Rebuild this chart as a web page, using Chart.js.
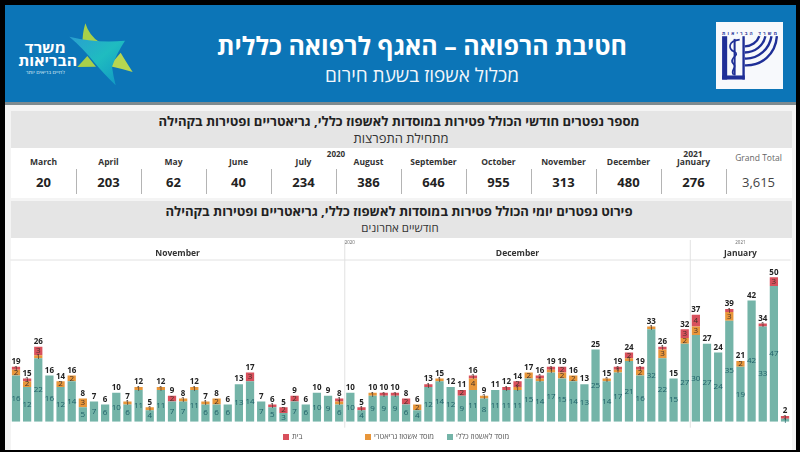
<!DOCTYPE html>
<html lang="he">
<head>
<meta charset="utf-8">
<title>חטיבת הרפואה</title>
<script src="https://cdn.jsdelivr.net/npm/chart.js@4"></script>
<style>
    html, body { margin: 0; padding: 0; background: #000; overflow: hidden; }
    body { width: 800px; height: 452px; position: relative; font-family: "Open Sans", "Liberation Sans", sans-serif; color: #222; }
    .box { position: absolute; }
    .text { position: absolute; white-space: nowrap; transform: translate(-50%, -50%); line-height: 1; }
    #page { left: 5px; top: 5px; width: 791px; height: 445px; background: #f4f4f4; }
    #header { left: 5px; top: 5px; width: 791px; height: 97px; background: #0c75b7; }
    #headerLine { left: 5px; top: 102px; width: 791px; height: 3px; background: #7d8a8f; }
    .band { left: 11px; width: 781px; height: 37px; background: #e5e5e5; }
    #monthRow { left: 11px; top: 148px; width: 781px; height: 50px; background: #fff; }
    #chartPanel { left: 11px; top: 238px; width: 781px; height: 212px; background: #fff; }
    .divider { position: absolute; top: 169px; height: 25px; width: 1px; background: #b4b4b4; }
    .monthName { font-size: 8.5px; font-weight: 700; color: #333; }
    .monthValue { font-size: 13px; font-weight: 700; color: #222; }
    .legendSwatch { position: absolute; top: 434px; width: 6px; height: 6px; }
    .legendText { position: absolute; top: 433px; font-size: 7.5px; line-height: 1; color: #555; white-space: nowrap; }
    canvas { position: absolute; left: 0; top: 0; }
</style>
</head>
<body>
<div class="box" id="page"></div>
<div class="box" id="header"></div>
<div class="box" id="headerLine"></div>

<!-- Ministry logo, left of the banner -->
<svg class="box" style="left:0;top:10px" width="150" height="90" viewBox="0 0 450 270">
    <defs>
        <linearGradient id="tealFill" x1="0" y1="0" x2="1" y2="1">
            <stop offset="0" stop-color="#2a9fd0"/>
            <stop offset="0.5" stop-color="#1fbcc0"/>
            <stop offset="1" stop-color="#0f93c4"/>
        </linearGradient>
    </defs>
    <path d="M256 40 Q246 75 248 100 L298 96 Q268 78 256 40 Z" fill="#a9d04a"/>
    <path d="M232 171 L288 170 L262 138 Z" fill="#a9d04a"/>
    <path d="M362 128 Q375 150 398 186 Q360 175 328 168 Z" fill="#b7d651"/>
    <path d="M208 80 Q290 100 375 92 Q350 130 336 170 Q340 200 347 226 Q310 190 285 160 Q250 115 208 80 Z" fill="url(#tealFill)"/>
    <text x="136" y="130" text-anchor="middle" fill="#fff" font-size="42" font-weight="700" textLength="123" lengthAdjust="spacingAndGlyphs">משרד</text>
    <text x="143" y="168" text-anchor="middle" fill="#fff" font-size="42" font-weight="700" textLength="177" lengthAdjust="spacingAndGlyphs">הבריאות</text>
    <text x="136" y="192" text-anchor="middle" fill="#dcecf5" font-size="15" textLength="117" lengthAdjust="spacingAndGlyphs">לחיים בריאים יותר</text>
</svg>

<!-- Emblem, right of the banner -->
<svg class="box" style="left:716px;top:22px" width="67" height="67" viewBox="0 0 198 198">
    <rect x="0" y="0" width="198" height="198" fill="#f7f9fc"/>
    <rect x="18" y="42" width="15" height="128" fill="#1f2f97"/>
    <rect x="18" y="158" width="67" height="12" fill="#1f2f97"/>
    <rect x="78" y="42" width="7" height="128" fill="#1f2f97"/>
    <path d="M55 50 L55 158" stroke="#1f2f97" stroke-width="6" fill="none"/>
    <path d="M70 52 C34 56 36 80 54 88 C74 98 36 106 50 122 C66 134 40 142 52 156" stroke="#1f2f97" stroke-width="5" fill="none"/>
    <path d="M85 128 C135 130 176 96 180 42" stroke="#1f2f97" stroke-width="7" fill="none"/>
    <path d="M85 108 C125 110 158 80 164 42" stroke="#1f2f97" stroke-width="7" fill="none"/>
    <path d="M85 90 C115 90 140 70 146 42" stroke="#1f2f97" stroke-width="7" fill="none"/>
    <path d="M85 72 C104 72 122 60 128 42" stroke="#1f2f97" stroke-width="7" fill="none"/>
    <text x="99" y="38" text-anchor="middle" fill="#1f2f97" font-size="14" font-weight="700" textLength="162" lengthAdjust="spacing">משרד הבריאות</text>
</svg>

<div class="text" dir="rtl" style="left:422px;top:45px;font-size:25px;font-weight:700;color:#fff">חטיבת הרפואה – האגף לרפואה כללית</div>
<div class="text" dir="rtl" style="left:422px;top:75px;font-size:19px;color:#f2f7fb">מכלול אשפוז בשעת חירום</div>

<div class="box band" style="top:111px"></div>
<div class="text" dir="rtl" style="left:399px;top:122px;font-size:13.1px;font-weight:700">מספר נפטרים חודשי הכולל פטירות במוסדות לאשפוז כללי, גריאטריים ופטירות בקהילה</div>
<div class="text" dir="rtl" style="left:401px;top:138px;font-size:13px;color:#333">מתחילת התפרצות</div>

<div class="box" id="monthRow"></div>
<div id="monthTable"></div>

<div class="box band" style="top:201px"></div>
<div class="text" dir="rtl" style="left:399px;top:212px;font-size:13.1px;font-weight:700">פירוט נפטרים יומי הכולל פטירות במוסדות לאשפוז כללי, גריאטריים ופטירות בקהילה</div>
<div class="text" dir="rtl" style="left:400px;top:228px;font-size:11.5px;color:#333">חודשיים אחרונים</div>

<div class="box" id="chartPanel"></div>
<canvas id="dailyChart" width="800" height="452"></canvas>
<div id="dailyLegend"></div>

<script>
// Monthly table
const monthNames = ['March', 'April', 'May', 'June', 'July', 'August', 'September', 'October', 'November', 'December', 'January'];
const monthTotals = [20, 203, 62, 40, 234, 386, 646, 955, 313, 480, 276];
const grandTotal = '3,615';

// Daily chart
const dayLabels = [
    '1', '2', '3', '4', '5', '6', '7', '8', '9', '10', '11', '12', '13', '14', '15',
    '16', '17', '18', '19', '20', '21', '22', '23', '24', '25', '26', '27', '28', '29', '30',
    '1', '2', '3', '4', '5', '6', '7', '8', '9', '10', '11', '12', '13', '14', '15', '16',
    '17', '18', '19', '20', '21', '22', '23', '24', '25', '26', '27', '28', '29', '30', '31',
    '1', '2', '3', '4', '5', '6', '7', '8', '9'
];
const generalValues = [
    16, 12, 22, 16, 12, 14, 5, 7, 6, 10, 6, 11, 4, 11, 7,
    7, 11, 6, 6, 6, 13, 14, 7, 5, 3, 7, 6, 10, 9, 6,
    10, 4, 9, 9, 9, 6, 4, 12, 14, 12, 9, 11, 8, 11, 11, 11,
    15, 14, 17, 15, 14, 13, 25, 14, 17, 21, 16, 32, 22, 15, 27,
    30, 27, 24, 35, 19, 42, 33, 47, 1
];
const geriatricValues = [
    2, 2, 1, 0, 2, 2, 3, 0, 0, 0, 1, 1, 1, 1, 0,
    1, 1, 1, 2, 0, 0, 0, 0, 0, 0, 0, 0, 0, 0, 1,
    0, 0, 1, 0, 0, 0, 2, 0, 1, 0, 0, 4, 1, 0, 0, 1,
    2, 1, 1, 2, 2, 0, 0, 1, 1, 1, 2, 1, 3, 0, 2,
    3, 0, 0, 3, 2, 0, 0, 0, 0
];
const homeValues = [
    1, 1, 3, 0, 0, 0, 0, 0, 0, 0, 0, 0, 0, 0, 2,
    0, 0, 0, 0, 0, 0, 3, 0, 1, 2, 2, 0, 0, 0, 1,
    0, 1, 0, 1, 1, 2, 0, 1, 0, 0, 2, 1, 0, 0, 1, 2,
    0, 1, 1, 2, 0, 0, 0, 0, 1, 2, 1, 0, 1, 0, 3,
    4, 0, 0, 1, 0, 0, 1, 3, 1
];
const seriesNames = ['מוסד לאשפוז כללי', 'מוסד אשפוז גריאטרי', 'בית'];
const seriesColors = ['#74b4a8', '#e8963a', '#d8505c'];
const dayBands = [
    { name: 'November', days: 30, year: '' },
    { name: 'December', days: 31, year: '2020' },
    { name: 'January', days: 9, year: '2021' }
];

/**
 * Fills the monthly table from the month arrays
 */
function printMonthTable(){
    const table = document.getElementById('monthTable');
    const columnWidth = 65;
    const left = 11;
    let html = '';

    monthNames.forEach((name, i) => {
        const center = left + columnWidth * (i + 0.5);
        html += `<div class="text monthName" style="left:${center}px;top:162px">${name}</div>`;
        html += `<div class="text monthValue" style="left:${center}px;top:182px">${monthTotals[i]}</div>`;
        html += `<div class="divider" style="left:${left + columnWidth * (i + 1)}px"></div>`;
    });

    const totalCenter = left + columnWidth * 11.5;
    html += `<div class="text" style="left:336px;top:154px;font-size:8px;font-weight:700;color:#333">2020</div>`;
    html += `<div class="text" style="left:693px;top:154px;font-size:8.5px;font-weight:700;color:#333">2021</div>`;
    html += `<div class="text" style="left:${totalCenter}px;top:158px;font-size:8.5px;color:#666">Grand Total</div>`;
    html += `<div class="text" style="left:${totalCenter}px;top:182px;font-size:13px;color:#444">${grandTotal}</div>`;
    table.innerHTML = html;
}

/**
 * Builds the legend under the chart, at the same spacing as the report
 */
function printLegend(){
    const legend = document.getElementById('dailyLegend');
    const starts = [447, 365, 283];
    let html = '';

    seriesNames.forEach((name, i) => {
        html += `<div class="legendSwatch" style="left:${starts[i]}px;background:${seriesColors[i]}"></div>`;
        html += `<div class="legendText" dir="rtl" style="left:${starts[i] + 9}px">${name}</div>`;
    });
    legend.innerHTML = html;
}

// Month dividers and month names above the bars
const monthBandsPlugin = {
    id: 'monthBands',
    afterDraw(chart){
        const ctx = chart.ctx;
        const x = chart.scales.x;
        const area = chart.chartArea;
        const step = x.getPixelForValue(1) - x.getPixelForValue(0);
        let first = 0;

        ctx.save();
        ctx.strokeStyle = '#e2e2e2';
        ctx.lineWidth = 1;
        ctx.beginPath();
        ctx.moveTo(area.left, area.top);
        ctx.lineTo(area.right, area.top);
        ctx.stroke();

        ctx.textAlign = 'center';
        ctx.textBaseline = 'middle';
        dayBands.forEach(band => {
            const start = x.getPixelForValue(first) - step / 2;
            const end = start + band.days * step;

            ctx.fillStyle = '#333';
            ctx.font = '700 8.5px "Open Sans"';
            ctx.fillText(band.name, (start + end) / 2, 254);
            if(first > 0){
                ctx.beginPath();
                ctx.moveTo(start, 240);
                ctx.lineTo(start, area.bottom + 6);
                ctx.stroke();
            }
            if(band.year){
                ctx.fillStyle = '#666';
                ctx.font = '4.5px "Open Sans"';
                ctx.fillText(band.year, first > 30 ? (start + end) / 2 : start + 5, 243);
            }
            first += band.days;
        });
        ctx.restore();
    }
};

// Segment values inside the bars and day totals on top
const barValuesPlugin = {
    id: 'barValues',
    afterDatasetsDraw(chart){
        const ctx = chart.ctx;
        ctx.save();
        ctx.textAlign = 'center';
        ctx.textBaseline = 'middle';

        chart.data.datasets.forEach((dataset, d) => {
            const bars = chart.getDatasetMeta(d).data;
            ctx.font = '8px "Open Sans"';
            ctx.fillStyle = d === 0 ? '#1f6068' : '#43322a';
            dataset.data.forEach((value, i) => {
                if(value > 0){
                    ctx.fillText(value, bars[i].x, (bars[i].y + bars[i].base) / 2);
                }
            });
        });

        ctx.font = '700 8px "Open Sans"';
        ctx.fillStyle = '#222';
        dayLabels.forEach((label, i) => {
            const total = generalValues[i] + geriatricValues[i] + homeValues[i];
            const x = chart.getDatasetMeta(0).data[i].x;
            ctx.fillText(total, x, chart.scales.y.getPixelForValue(total) - 5);
        });
        ctx.restore();
    }
};

/**
 * Creates the stacked chart of daily deaths
 */
function printDailyChart(){
    const ctx = document.getElementById('dailyChart').getContext('2d');
    const values = [generalValues, geriatricValues, homeValues];

    new Chart(ctx, {
        type: 'bar',
        data: {
            labels: dayLabels,
            datasets: seriesNames.map((name, i) => ({
                label: name,
                data: values[i],
                backgroundColor: seriesColors[i],
                categoryPercentage: 1,
                barPercentage: 0.74
            }))
        },
        options: {
            responsive: false,
            animation: false,
            layout: {
                padding: { left: 10.4, right: 9.4, top: 260, bottom: 22.3 }
            },
            plugins: {
                legend: { display: false },
                tooltip: { enabled: false }
            },
            scales: {
                x: {
                    stacked: true,
                    grid: { display: false },
                    border: { display: false },
                    afterFit: scale => { scale.height = 8; },
                    ticks: {
                        autoSkip: false,
                        maxRotation: 0,
                        padding: 1,
                        color: '#666',
                        font: { size: 5, family: 'Open Sans' }
                    }
                },
                y: {
                    display: false,
                    stacked: true,
                    min: 0,
                    max: 56
                }
            }
        },
        plugins: [monthBandsPlugin, barValuesPlugin]
    });
}

window.addEventListener('load', () => {
    printMonthTable();
    printLegend();
    printDailyChart();
});
</script>
</body>
</html>
